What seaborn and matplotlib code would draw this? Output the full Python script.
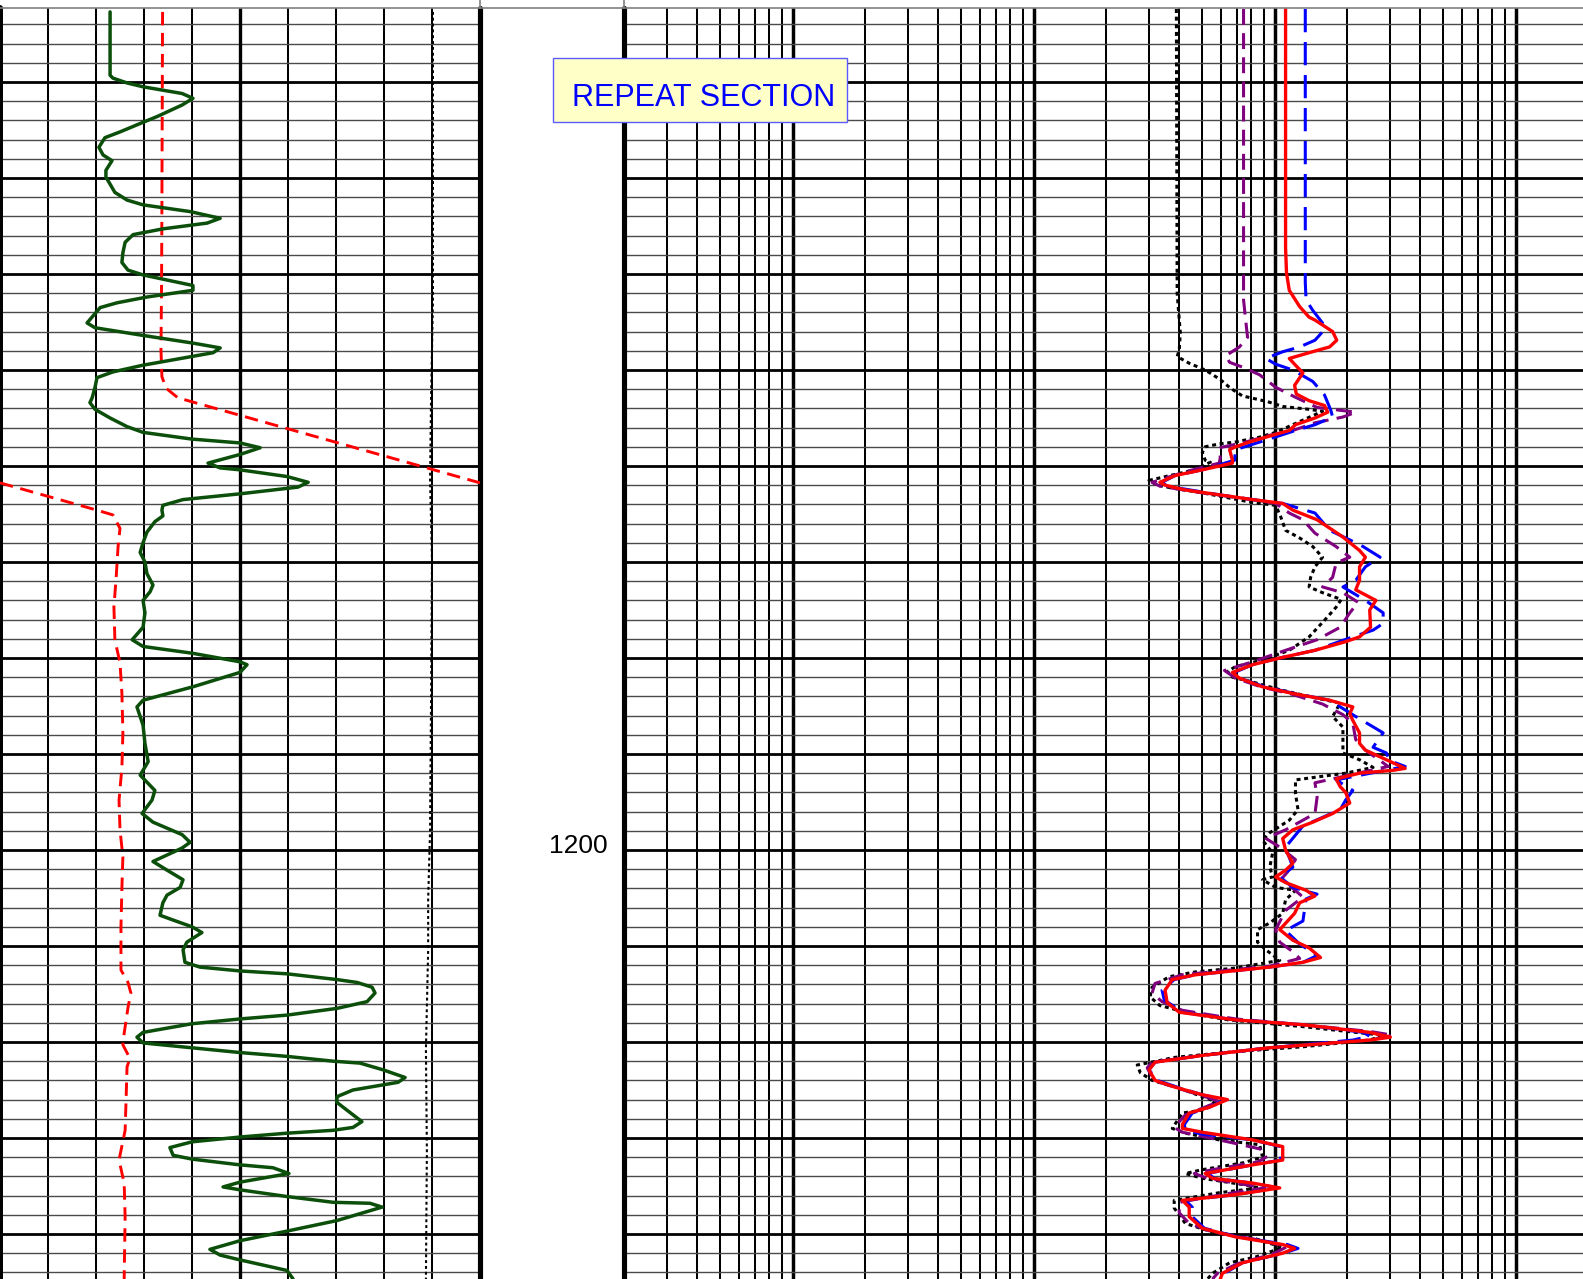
import numpy as np
import pandas as pd
import matplotlib
matplotlib.use("Agg")
import matplotlib.pyplot as plt
from matplotlib.ticker import FixedLocator, NullFormatter
from matplotlib.patches import Rectangle
from matplotlib.lines import Line2D
from matplotlib import transforms
import seaborn as sns

# ---------------- data ----------------
# Track 1 (linear, 0-150): gamma ray
gr_depth = [1112.7,1119.3,1119.6,1120.1,1120.5,1121.2,1121.7,1122.4,1123.6,1124.2,
            1125.2,1125.8,1126.8,1127.6,1128.2,1129.2,1129.9,1131.5,1132.3,1132.8,
            1133.5,1134.2,1134.7,1135.3,1135.9,1136.7,1137.8,1138.8,1139.6,1140.1,
            1141.2,1141.7,1142.4,1143.0,1143.5,1145.1,1145.6,1146.4,1147.2,1147.7,
            1148.2,1149.5,1150.2,1150.8,1151.8,1152.9,1153.4,1154.1,1155.0,1155.9,
            1156.5,1157.2,1157.6,1158.1,1158.8,1159.7,1160.2,1160.4,1161.1,1161.7,
            1162.2,1162.9,1163.5,1164.1,1164.6,1165.2,1165.8,1166.9,1168.0,1169.0,
            1170.0,1171.2,1172.4,1173.1,1174.0,1175.3,1176.8,1178.1,1178.8,1179.5,
            1180.4,1180.7,1181.5,1183.0,1184.4,1185.1,1187.0,1188.9,1190.8,1192.2,
            1193.8,1194.8,1196.2,1197.1,1198.4,1199.2,1199.8,1201.2,1202.1,1203.1,
            1203.9,1204.7,1205.5,1206.8,1207.3,1208.0,1208.6,1209.6,1210.4,1211.7,
            1212.2,1212.6,1212.9,1213.5,1213.8,1214.3,1214.9,1215.8,1216.5,1217.2,
            1217.6,1218.1,1219.0,1219.5,1220.1,1220.6,1221.1,1221.5,1222.0,1222.2,
            1222.9,1223.7,1224.2,1225.0,1225.7,1226.3,1227.1,1228.3,1228.9,1229.2,
            1229.5,1229.9,1230.4,1231.0,1231.8,1232.2,1232.8,1233.1,1233.7,1234.6,
            1235.1,1235.4,1236.1,1236.7,1236.8,1237.2,1238.6,1239.7,1240.7,1241.6,
            1242.2,1242.7,1243.8,1244.7]
gr_value = [34.4,34.4,35.3,39.7,44.7,56.9,60.3,56.9,49.1,44.7,
            37.5,32.8,30.9,32.2,35.0,33.1,33.1,35.9,39.7,44.7,
            59.4,68.8,64.7,50.9,41.6,39.1,38.4,38.1,40.0,44.7,
            60.3,60.3,45.9,36.6,31.3,27.2,29.7,44.7,60.3,68.8,
            66.6,44.7,35.3,30.3,29.7,28.8,28.1,29.7,34.4,39.7,
            44.7,60.0,75.0,81.3,75.0,65.0,68.8,75.0,89.7,96.3,
            93.1,75.0,57.2,50.9,50.6,50.9,48.4,45.9,44.7,43.8,
            45.3,45.9,47.8,46.9,44.7,45.3,44.7,41.3,44.7,60.0,
            75.0,77.2,75.0,60.3,44.7,42.8,44.7,45.3,46.3,43.8,
            48.4,47.5,44.4,47.8,56.9,59.4,56.9,47.8,52.2,57.2,
            56.3,52.2,50.9,50.0,54.1,60.0,63.1,58.4,57.2,57.8,
            62.5,75.0,89.7,105.3,111.6,116.3,117.2,114.7,105.3,89.7,
            75.0,60.0,44.7,42.8,44.7,60.0,75.0,89.7,104.1,112.5,
            119.7,126.6,124.4,110.3,105.3,105.3,108.4,113.1,110.3,104.1,
            89.7,75.0,60.0,53.1,54.1,60.0,75.0,85.3,90.3,75.0,
            69.7,75.0,89.7,104.1,115.6,119.4,105.3,89.7,75.0,65.6,
            68.8,75.0,89.7,91.6]

# Track 1 red dashed curve (values beyond 150 wrap around)
cal_depth = [1112.7,1132.3,1140.6,1147.9,1150.7,1151.9,1152.9,1164.6,1165.1,1166.5,
             1168.4,1171.6,1174.7,1178.1,1180.5,1183.7,1187.8,1191.4,1194.8,1197.9,
             1200.7,1203.9,1208.0,1212.5,1213.8,1214.9,1216.4,1219.1,1220.3,1221.7,
             1222.6,1226.0,1229.2,1232.3,1234.7,1238.2,1244.7]
cal_value = [50.8,50.6,50.5,50.3,50.6,51.9,55.6,180.3,185.3,187.5,
             186.9,186.3,185.6,185.9,187.5,188.1,188.4,188.1,187.2,187.5,
             188.4,188.1,187.8,187.8,190.0,190.9,190.0,188.8,188.4,190.6,
             189.7,189.4,189.1,187.2,188.8,189.1,188.8]

# Track 1 black dotted curve
ten_depth = [1112.7,1142.7,1153.1,1161.5,1169.8,1184.4,1197.9,1205.2,1210.4,1220.8,1231.3,1244.7]
ten_value = [135.3,135.3,134.7,134.4,135.0,134.7,134.4,133.8,133.8,133.1,133.4,133.1]

# Track 3 (log 0.2-2000): resistivity curves
red_depth = [1112.4,1137.3,1139.9,1141.7,1143.4,1144.5,1144.8,1146.0,1146.9,1147.6,
             1148.2,1148.8,1149.5,1150.3,1151.6,1152.5,1153.2,1153.7,1154.4,1155.0,
             1155.7,1156.3,1157.1,1157.5,1158.0,1158.3,1159.4,1159.7,1160.4,1161.0,
             1161.7,1162.0,1162.5,1163.0,1163.5,1163.9,1164.6,1165.6,1167.4,1168.8,
             1169.5,1170.5,1171.9,1172.9,1174.0,1175.0,1176.8,1177.8,1178.3,1179.2,
             1180.0,1180.7,1181.5,1182.1,1183.0,1183.7,1184.4,1185.1,1185.8,1186.5,
             1187.8,1188.9,1189.6,1190.6,1191.5,1191.7,1192.0,1192.6,1193.4,1194.0,
             1195.1,1196.2,1197.1,1197.9,1198.8,1200.0,1201.4,1202.1,1202.8,1203.4,
             1204.2,1204.8,1205.5,1206.6,1208.3,1209.4,1210.2,1211.2,1211.7,1212.2,
             1213.0,1213.5,1214.6,1215.9,1216.9,1217.7,1218.2,1219.0,1219.5,1219.8,
             1220.6,1221.4,1222.1,1222.9,1224.0,1224.7,1225.5,1226.0,1226.8,1227.4,
             1228.6,1229.0,1229.4,1230.2,1230.9,1232.3,1232.8,1233.7,1234.2,1234.7,
             1235.2,1235.9,1236.5,1237.2,1238.2,1239.4,1240.3,1241.1,1241.5,1242.0,
             1243.0,1244.1,1244.7]
red_value = [111,111,112,115,127,139,147,174,181,169,
             139,115,122,131,121,123,139,161,166,147,
             122,115,89,78.7,68.8,65.0,66.8,66.8,50.1,38.6,
             33.4,35.1,42.6,58.9,81.0,108,119,150,192,225,
             238,225,225,217,263,248,250,225,197,147,
             105,81.0,66.8,71.4,89,119,169,211,205,211,
             225,225,238,291,348,310,225,180,187,197,
             205,174,144,119,108,111,119,111,101,111,
             135,147,127,121,105,119,139,155,131,95.4,
             46.9,37.6,35.1,35.8,40.2,68.8,131,248,302,248,
             95.4,50.1,31.9,30.1,31.9,38.6,50.1,63.7,53.6,44.2,
             41.4,41.4,50.1,81.0,108,108,81.0,51.5,55.2,81.0,
             105,68.8,41.4,44.2,44.2,50.1,68.8,108,121,108,
             73.5,60.7,59.5]

blue_depth = [1112.4,1138.2,1140.9,1142.7,1143.8,1145.1,1145.8,1146.9,1147.6,1148.1,
              1148.8,1149.4,1150.0,1151.2,1152.6,1154.2,1154.9,1155.7,1156.3,1157.3,
              1158.3,1159.4,1160.4,1161.0,1161.7,1162.1,1163.0,1163.5,1163.9,1164.9,
              1166.7,1167.7,1168.4,1169.5,1170.5,1171.9,1172.6,1174.0,1175.3,1176.4,
              1177.1,1177.8,1179.2,1180.0,1180.7,1181.5,1182.2,1183.0,1183.7,1184.4,
              1186.1,1187.8,1189.3,1189.9,1190.7,1191.3,1192.7,1193.8,1194.8,1195.8,
              1197.5,1199.7,1201.8,1202.8,1203.9,1204.6,1205.1,1207.4,1208.4,1209.8,
              1211.0,1211.7,1212.2,1213.0,1213.5,1214.6,1215.6,1216.9,1217.7,1218.2,
              1219.0,1219.4,1219.8,1220.6,1221.4,1222.1,1222.9,1224.0,1224.7,1225.5,
              1226.0,1226.8,1227.4,1228.6,1229.2,1229.6,1230.2,1230.9,1232.3,1232.8,
              1233.7,1234.2,1234.7,1235.2,1235.9,1236.5,1237.2,1238.2,1239.4,1240.3,
              1241.1,1241.5,1242.0,1243.0,1244.1,1244.7]
blue_value = [134,134,134,135,144,158,161,147,127,108,
              92,101,119,144,161,171,174,147,122,92,
              68.8,68.2,50.1,38.6,34.1,35.8,58.9,81,108,147,
              169,205,233,274,238,217,192,238,282,282,
              256,211,147,105,81,68.2,73.5,91,121,169,
              217,282,256,291,300,348,180,211,197,187,
              131,111,119,105,119,150,135,131,111,127,
              150,131,95.4,46.9,38.3,34.1,34.8,41.4,68.8,131,
              233,248,211,95.4,50.1,31.9,30.1,32.6,39.4,50.1,
              61.9,53.6,45.5,42.2,42.6,50.1,81,106,106,81,
              52.6,56.3,81,103,68.8,42.6,45.5,45.5,51.1,70.1,
              113,125,109,73.5,61.9,60.7]

purple_depth = [1112.4,1142.7,1144.8,1146.6,1147.6,1148.5,1149.2,1149.7,1150.5,1151.8,
                1152.8,1153.9,1154.4,1154.9,1155.5,1156.3,1156.8,1157.6,1158.1,1159.1,
                1159.7,1160.6,1161.7,1162.1,1162.8,1163.5,1163.9,1164.9,1165.6,1167.0,
                1168.4,1169.5,1170.1,1171.6,1172.6,1173.2,1174.2,1175.3,1176.8,1178.1,
                1179.2,1180.4,1181.3,1182.1,1183.0,1183.8,1184.8,1185.9,1186.8,1188.5,
                1189.6,1191.3,1193.0,1194.5,1196.2,1197.9,1198.8,1199.7,1201.0,1202.3,
                1203.1,1204.0,1204.9,1206.3,1208.3,1209.6,1210.6,1211.3,1212.1,1213.0,
                1213.9,1214.9,1215.8,1216.7,1217.6,1218.2,1218.9,1219.3,1219.8,1220.6,
                1221.4,1222.1,1222.7,1224.0,1224.8,1225.6,1226.2,1226.9,1227.6,1228.9,
                1229.4,1230.2,1231.2,1232.0,1232.5,1233.3,1233.7,1234.2,1234.9,1235.2,
                1235.8,1236.7,1237.8,1238.9,1239.8,1240.5,1241.3,1242.1,1243.1,1244.1,
                1244.7]
purple_value = [74.3,74.3,75.8,77.2,71.4,62.8,65.0,73.5,86.6,101,
                121,150,217,192,147,119,95.4,73.5,58.9,59.5,
                58.9,42.6,31.0,33.4,50.1,81.0,101,115,131,147,
                180,205,180,174,158,192,222,205,187,150,
                111,81.0,61.9,68.8,87.5,119,158,192,211,217,
                238,296,147,150,147,111,92,105,122,113,
                106,119,131,111,101,105,119,127,95.4,41.4,
                31.9,31.0,34.1,41.4,68.8,131,248,310,248,95.4,
                50.1,31.0,29.6,31.5,39.4,50.1,58.9,50.1,42.6,38.3,
                41.4,58.9,89.1,92,84.9,55.2,46.4,52.6,77.2,91,
                63.7,40.2,40.2,44.2,55.2,81.0,113,98.1,70.1,57.9,
                55.2]

black_depth = [1112.4,1142.0,1144.8,1146.1,1147.9,1148.6,1149.3,1150.0,1151.0,1151.9,
               1152.7,1153.3,1153.8,1154.1,1154.3,1156.5,1157.0,1157.5,1157.7,1158.0,
               1158.6,1159.4,1159.6,1160.4,1160.7,1161.5,1162.0,1162.3,1162.8,1163.2,
               1163.8,1164.1,1165.3,1166.7,1167.5,1168.4,1169.5,1170.5,1171.6,1172.6,
               1173.2,1173.9,1174.7,1176.0,1177.8,1179.2,1180.2,1180.9,1181.4,1182.0,
               1182.5,1183.3,1184.1,1184.7,1186.1,1187.2,1188.9,1189.9,1190.6,1191.4,
               1192.0,1192.7,1194.1,1195.8,1196.9,1198.2,1199.0,1200.3,1201.8,1202.8,
               1203.1,1203.9,1204.2,1205.2,1206.6,1207.6,1208.3,1209.6,1210.4,1211.5,
               1212.3,1212.7,1213.2,1214.3,1215.3,1216.2,1217.0,1217.7,1218.4,1219.0,
               1219.3,1219.8,1220.5,1221.0,1221.6,1222.4,1223.2,1224.0,1224.8,1225.7,
               1226.2,1227.1,1227.4,1229.0,1229.5,1230.2,1230.7,1232.0,1232.6,1233.3,
               1233.7,1234.2,1234.9,1235.2,1235.7,1236.5,1237.3,1238.9,1239.8,1240.4,
               1241.4,1242.4,1243.0,1244.1,1244.7]
black_value = [39.1,39.4,40.2,40.6,40.2,39.4,44.2,51.5,59.5,65.6,
               73.5,93.5,108,139,158,101,86.6,68.8,58.9,51.5,
               50.1,51.5,54.1,46.9,41.4,30.1,32.6,37.6,50.1,60.7,
               81.0,101,106,111,127,144,158,147,141,139,
               158,189,180,162,139,115,89.1,68.8,63.7,66.8,
               81.0,105,144,187,174,192,192,192,225,256,
               197,122,122,125,115,95.4,89.1,98.1,95.4,98.1,
               89.1,101,122,111,108,95.4,84.9,84.9,92,105,
               68.8,46.9,36.5,31.0,30.4,33.4,44.2,64.3,131,217,
               282,248,131,68.8,38.6,26.9,27.7,31.0,40.2,50.1,
               56.8,50.1,41.4,37.6,42.6,58.9,86.6,89.1,73.5,50.1,
               42.6,50.1,75.8,86.6,58.9,38.3,38.3,42.6,55.2,81.0,
               108,83.3,65.0,55.2,52.6]

depth_labels = [1200]
banner_text = "REPEAT SECTION"

# ---------------- figure ----------------
sns.set_style("white")
plt.rcParams['font.family'] = ['Liberation Sans', 'DejaVu Sans']
plt.rcParams['lines.solid_joinstyle'] = 'round'
plt.rcParams['lines.dash_joinstyle'] = 'round'

W, H = 1583, 1279
fig = plt.figure(figsize=(W / 100, H / 100), dpi=100)
fig.patch.set_facecolor('white')

TOP_PX = 8
D0 = 1111.46       # depth at image top
PXU = 9.6          # pixels per depth unit
d_top = D0 + TOP_PX / PXU
d_bot = D0 + H / PXU
ah = (H - TOP_PX) / H

ax_gr = fig.add_axes([0, 0, 480 / W, ah])
ax_rs = fig.add_axes([624.2 / W, 0, 964 / W, ah])


def plot_curve(ax, vals, deps, color, lw, ls, z):
    df = pd.DataFrame({"value": vals, "depth": deps})
    sns.lineplot(data=df, x="value", y="depth", ax=ax, sort=False, estimator=None,
                 color=color, linewidth=lw, linestyle=ls, zorder=z, legend=False)


def wrap_segments(vals, deps, lo, hi):
    span = hi - lo
    segs = []
    cv, cd = [], []
    prev = None
    for v, d in zip(vals, deps):
        k = int(np.floor((v - lo) / span))
        if prev is not None and k != prev[2]:
            pv, pdp, pk = prev
            b = lo + max(k, pk) * span
            t = (b - pv) / (v - pv)
            db = pdp + t * (d - pdp)
            cv.append(b - pk * span)
            cd.append(db)
            segs.append((cv, cd))
            cv, cd = [b - k * span], [db]
        cv.append(v - k * span)
        cd.append(d)
        prev = (v, d, k)
    segs.append((cv, cd))
    return segs


ax_rs.set_xscale('log')

# Track 1 curves
plot_curve(ax_gr, ten_value, ten_depth, 'black', 1.5, (0, (1.4, 1.4)), 3)
for sv, sd in wrap_segments(cal_value, cal_depth, 0, 150):
    plot_curve(ax_gr, sv, sd, '#ff0000', 2.1, (0, (4.6, 2.6)), 4)
plot_curve(ax_gr, gr_value, gr_depth, '#0b4f0b', 2.5, '-', 5)

# Track 3 curves
plot_curve(ax_rs, black_value, black_depth, 'black', 2.2, (0, (1.3, 1.2)), 3)
plot_curve(ax_rs, purple_value, purple_depth, '#800080', 2.2, (0, (5.2, 2.7)), 4)
plot_curve(ax_rs, blue_value, blue_depth, '#0000ff', 2.2, (0, (7.6, 3.2)), 5)
plot_curve(ax_rs, red_value, red_depth, '#ff0000', 2.4, '-', 6)

# grids / limits
major_depth = list(range(1120, 1245, 10))
minor_depth = [d for d in range(1114, 1245, 2) if d % 10 != 0]

for ax in (ax_gr, ax_rs):
    ax.set_ylim(d_bot, d_top)
    ax.yaxis.set_major_locator(FixedLocator(major_depth))
    ax.yaxis.set_minor_locator(FixedLocator(minor_depth))
    ax.grid(True, axis='y', which='major', color='black', lw=2.0)
    ax.grid(True, axis='y', which='minor', color='#4a4a4a', lw=1.0)
    ax.set_axisbelow(True)
    ax.set_xlabel('')
    ax.set_ylabel('')
    for s in ax.spines.values():
        s.set_visible(False)
    ax.set_facecolor('white')

ax_gr.set_xlim(0, 150)
ax_gr.xaxis.set_major_locator(FixedLocator([15, 30, 45, 60, 90, 105, 120, 135]))
ax_gr.grid(True, axis='x', which='major', color='black', lw=1.45)
ax_gr.axvline(75, color='black', lw=2.4, zorder=1)
ax_gr.axvline(0, color='black', lw=4.3, zorder=1, clip_on=False)
ax_gr.axvline(150, color='black', lw=3.7, zorder=1, clip_on=False)

ax_rs.set_xlim(0.2, 2000)
ax_rs.xaxis.set_major_locator(FixedLocator([1, 10, 100, 1000]))
minor_x = [k * 10.0 ** e for e in range(-1, 3) for k in range(2, 10)
           if k * 10.0 ** e > 0.21]
ax_rs.xaxis.set_minor_locator(FixedLocator(minor_x))
ax_rs.xaxis.set_minor_formatter(NullFormatter())
ax_rs.grid(True, axis='x', which='major', color='black', lw=2.5)
ax_rs.grid(True, axis='x', which='minor', color='black', lw=1.45)
ax_rs.axvline(0.2, color='black', lw=3.7, zorder=1, clip_on=False)

for ax in (ax_gr, ax_rs):
    ax.tick_params(which='both', length=0, labelleft=False, labelbottom=False,
                   labelright=False, labeltop=False)

# depth labels
tr = transforms.blended_transform_factory(fig.transFigure, ax_gr.transData)
for dl in depth_labels:
    ax_gr.text(607.7 / W, dl + 0.28, str(dl), transform=tr, ha='right', va='baseline',
               fontsize=19, color='black', clip_on=False)

# header lines
fig.add_artist(Line2D([0, 1], [1 - TOP_PX / H] * 2, transform=fig.transFigure,
                      color='#808080', lw=1.2))
for xp in (480, 624):
    fig.add_artist(Line2D([xp / W] * 2, [1, 1 - TOP_PX / H], transform=fig.transFigure,
                          color='#808080', lw=1.2))

# banner
fig.add_artist(Rectangle((552.7 / W, 1 - 122.3 / H), 294 / W, 64.6 / H,
                         transform=fig.transFigure, facecolor='#FFFFC8',
                         edgecolor='#5a5aff', lw=1.0, zorder=5))
fig.text(571.7 / W, 1 - 106 / H, banner_text, color='#0000FF', fontsize=22,
         ha='left', va='baseline', zorder=6)

fig.savefig('out.png', dpi=100)
